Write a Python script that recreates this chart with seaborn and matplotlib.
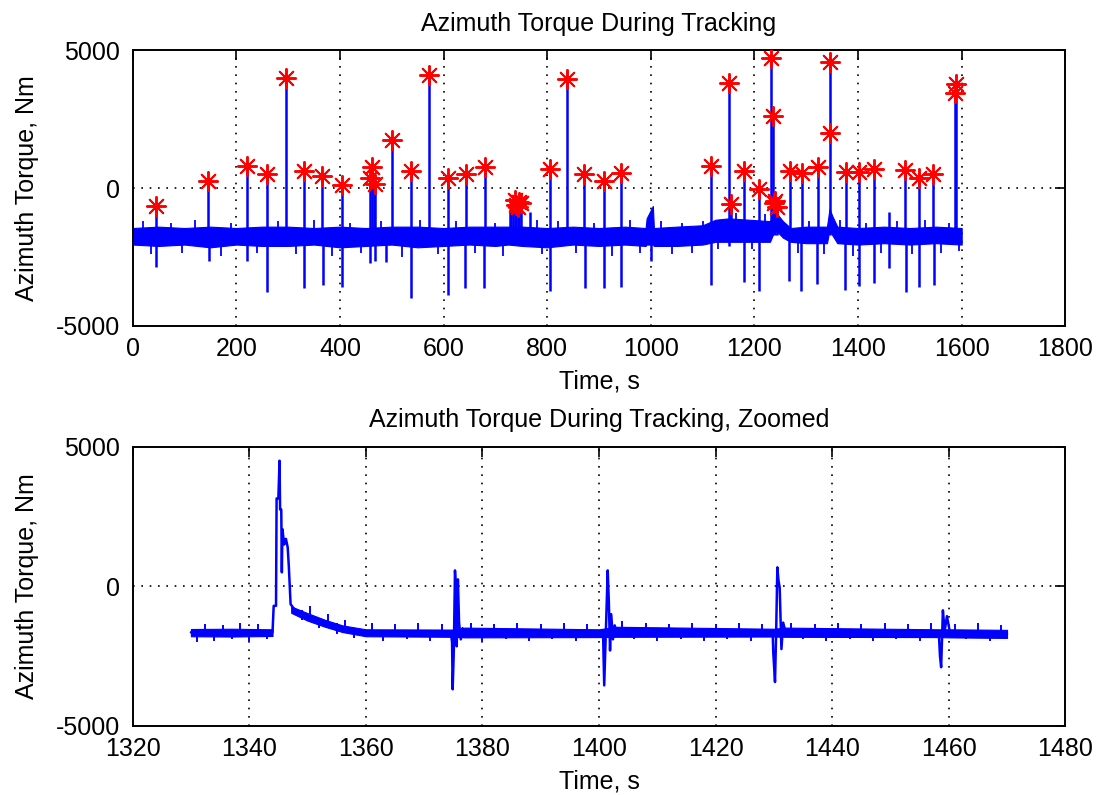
import numpy as np
import pandas as pd
import matplotlib
matplotlib.use('Agg')
import matplotlib.pyplot as plt
import seaborn as sb

# ---------------- top panel: whole tracking run ----------------
# noise band of the torque signal, upper / lower edge
band_t  = [0, 50, 100, 150, 200, 250, 300, 350, 400, 450, 500, 550, 600, 650, 700, 725,
           752, 800, 850, 900, 950, 990, 992, 1004, 1006, 1050, 1100, 1125, 1150, 1190,
           1230, 1240, 1255, 1270, 1300, 1340, 1345, 1350, 1360, 1400, 1450, 1500, 1550, 1600]
band_hi = [-1450, -1400, -1450, -1400, -1450, -1400, -1400, -1450, -1400, -1450, -1400, -1400,
           -1450, -1400, -1400, -1400, -1400, -1450, -1400, -1450, -1400, -1450, -1100, -650,
           -1450, -1400, -1350, -1150, -1100, -1150, -1200, -850, -1200, -1450, -1400, -1400,
           -750, -1000, -1400, -1450, -1400, -1450, -1400, -1450]
band_lo = [-2050, -2100, -2050, -2150, -2050, -2100, -2100, -2050, -2150, -2100, -2050, -2150,
           -2100, -2050, -2100, -2050, -2100, -2150, -2050, -2100, -2050, -2100, -2050, -2050,
           -2100, -2100, -2050, -1950, -1950, -1950, -1950, -1500, -1800, -1950, -2000, -2000,
           -1500, -1700, -2000, -2050, -2000, -2050, -2000, -2050]

# short noise ticks sticking out of the band (time, bottom, top)
tick_t  = [20, 35, 75, 95, 120, 170, 190, 240, 280, 315, 350, 385, 420, 440, 480, 520, 555, 590,
           625, 660, 700, 715, 780, 790, 820, 855, 890, 925, 960, 980, 1020, 1040, 1060, 1080,
           1100, 1130, 1165, 1195, 1220, 1285, 1305, 1335, 1365, 1390, 1415, 1445, 1475, 1505,
           1530, 1560, 1575, 1595]
tick_lo = [-1800, -2400, -1800, -2350, -1800, -2450, -1800, -2350, -1800, -2400, -1800, -2450,
           -1800, -2350, -1800, -2500, -1800, -2400, -1800, -2350, -1800, -2450, -1800, -2400,
           -1800, -2350, -1800, -2450, -1800, -2350, -1800, -2400, -1800, -2350, -1800, -2200,
           -1600, -2200, -1600, -2350, -1800, -2400, -1800, -2450, -1800, -2350, -1800, -2400,
           -1800, -2350, -1800, -2300]
tick_hi = [-1200, -1700, -1250, -1700, -1150, -1700, -1250, -1700, -1200, -1700, -1150, -1700,
           -1250, -1700, -1200, -1700, -1150, -1700, -1200, -1700, -1250, -1700, -1150, -1700,
           -1200, -1700, -1250, -1700, -1150, -1700, -1200, -1700, -1250, -1700, -1200, -1500,
           -900, -1500, -950, -1700, -1200, -1700, -1150, -1700, -1250, -1700, -1200, -1700,
           -1150, -1700, -1250, -1700]

base_level = -1700

# spikes going up (tip value) and going down (bottom value)
up_t = [46, 146, 221, 259, 296, 330, 366, 404, 459, 462, 465, 468, 500, 537, 572, 609, 643, 680,
        728, 731, 734, 737, 740, 743, 746, 749, 766, 805, 838, 871, 910, 943, 1117, 1150, 1154,
        1179, 1209, 1232, 1236, 1240, 1243, 1268, 1291, 1322, 1345, 1376, 1401, 1430, 1459, 1491,
        1517, 1545, 1587, 1589]
up_v = [-650, 250, 800, 500, 4000, 600, 430, 100, 360, 760, 400, 150, 1750, 600, 4100, 350, 500, 750,
        -750, -700, -650, -450, -600, -700, -500, -550, -870, 680, 3950, 500, 250, 530, 800, 3800, -580,
        600, -50, 4700, 2600, -470, -690, 600, 540, 760, 4550, 580, 580, 690, -860, 660,
        380, 520, 3440, 3770]
dn_t = [46, 147, 221, 260, 330, 367, 405, 458, 468, 489, 537, 609, 642, 679, 805, 873, 910, 943,
        1000, 1116, 1150, 1179, 1208, 1267, 1290, 1321, 1375, 1401, 1430, 1459, 1492, 1517, 1546]
dn_v = [-2860, -2650, -2650, -3770, -3620, -3510, -3590, -2700, -2650, -2680, -3990, -3880, -3620,
        -3620, -3730, -3620, -3620, -3590, -2650, -3510, -2100, -3400, -3730, -3370, -3730, -3480,
        -3690, -3550, -3430, -2900, -3770, -3590, -3510]

# red asterisks (detected peaks)
star_t = [46, 146, 221, 259, 296, 330, 366, 404, 459, 462, 468, 500, 537, 572, 609, 643, 680,
          737, 740, 743, 746, 749, 805, 838, 871, 910, 943, 1117, 1150, 1154, 1179, 1209,
          1232, 1236, 1237, 1240, 1243, 1268, 1291, 1322, 1345, 1345, 1376, 1401, 1430,
          1491, 1517, 1545, 1587, 1589]
star_v = [-650, 250, 800, 500, 4000, 600, 430, 100, 360, 760, 150, 1750, 600, 4100, 350, 500, 750,
          -450, -600, -700, -500, -550, 680, 3950, 500, 250, 530, 800, 3800, -580, 600, -50,
          4700, 2600, -550, -470, -690, 600, 540, 760, 4550, 2000, 580, 580, 690,
          660, 380, 520, 3440, 3770]

# ---------------- bottom panel: zoom 1330-1470 s ----------------
zoom_t = [1330, 1344.0, 1344.2, 1344.6, 1344.7, 1345.0, 1345.2, 1345.3, 1345.5, 1345.6, 1345.7,
          1346.0, 1346.3, 1346.6, 1346.8, 1347.1, 1348, 1351, 1354, 1357, 1360,
          1374.6, 1374.8, 1374.9, 1375.1, 1375.3, 1375.5, 1375.6, 1375.8, 1376.0, 1376.3, 1376.6, 1377,
          1400.7, 1400.9, 1401.2, 1401.5, 1401.7, 1401.9, 1402.1, 1402.4, 1402.7, 1403,
          1429.8, 1429.9, 1430.2, 1430.4, 1430.6, 1430.8, 1431.0, 1431.3, 1431.6, 1432,
          1458.3, 1458.5, 1458.7, 1459.0, 1459.3, 1459.7, 1460.2, 1470]
zoom_v = [-1650, -1650, -700, -700, 3150, 3150, 4500, 2750, 2750, 500, 2050,
          1500, 1700, 1400, 700, -640, -900, -1180, -1450, -1600, -1680,
          -1680, -2000, -3690, -2300, 570, -200, -2150, 250, -1300, -1900, -1500, -1650,
          -1650, -3550, -1500, 570, -600, -2300, -1000, -1900, -1400, -1650,
          -1650, -2370, -3430, -1600, 680, 200, -40, -2250, -1300, -1650,
          -1650, -2500, -2900, -860, -1600, -1070, -1650, -1700]

# noise band of the zoomed signal: before the big peak and after it
zband1_t  = [1330, 1337, 1344]
zband1_hi = [-1530, -1520, -1540]
zband1_lo = [-1790, -1800, -1780]
zband2_t  = [1347.2, 1350, 1353, 1356, 1360, 1375, 1377, 1400, 1403, 1430, 1432, 1458, 1460, 1470]
zband2_hi = [-720, -960, -1200, -1400, -1540, -1550, -1480, -1540, -1450, -1520, -1480, -1540, -1540, -1560]
zband2_lo = [-950, -1230, -1450, -1640, -1790, -1810, -1830, -1820, -1810, -1800, -1810, -1820, -1830, -1850]

# single noise ticks that stick out of the zoomed band (time, bottom, top)
ztick_t  = [1331, 1332.5, 1334, 1335.5, 1337, 1338.5, 1340, 1341.5, 1343, 1349, 1350.5, 1352,
            1353.5, 1355, 1356.5, 1358, 1361, 1363, 1365, 1367, 1369, 1371, 1373, 1378, 1380,
            1382, 1384, 1386, 1388, 1390, 1392, 1394, 1396, 1398, 1404, 1406, 1408, 1410, 1412,
            1414, 1416, 1418, 1420, 1422, 1424, 1426, 1428, 1433, 1435, 1437, 1439, 1441, 1443,
            1445, 1447, 1449, 1451, 1453, 1455, 1457, 1461, 1463, 1465, 1467, 1469]
ztick_lo = [-2000, -1700, -1950, -1700, -1900, -1700, -1950, -1700, -1900, -1200, -1000, -1500,
            -1250, -1700, -1450, -1850, -1700, -1950, -1700, -1900, -1700, -1950, -1700, -1700, -1950,
            -1700, -1900, -1700, -1950, -1700, -1900, -1700, -1950, -1700, -1700, -1900, -1700, -1950, -1700,
            -1900, -1700, -1950, -1700, -1900, -1700, -1950, -1700, -1700, -1900, -1700, -1950, -1700, -1900,
            -1700, -1950, -1700, -1900, -1700, -1950, -1700, -1700, -1900, -1700, -1950, -1700]
ztick_hi = [-1650, -1350, -1650, -1400, -1650, -1300, -1650, -1350, -1650, -850, -700, -1200,
            -1000, -1300, -1200, -1550, -1300, -1650, -1350, -1650, -1300, -1650, -1350, -1300, -1650,
            -1350, -1650, -1300, -1650, -1350, -1650, -1300, -1650, -1350, -1250, -1650, -1300, -1650, -1350,
            -1650, -1300, -1650, -1350, -1650, -1300, -1650, -1350, -1300, -1650, -1350, -1650, -1300, -1650,
            -1350, -1650, -1300, -1650, -1350, -1650, -1300, -1350, -1650, -1300, -1650, -1400]

# ---------------- style ----------------
sb.set_theme(style='white')
plt.rcParams['font.family'] = ['Liberation Sans', 'DejaVu Sans']
plt.rcParams['axes.unicode_minus'] = False
plt.rcParams['text.color'] = 'black'
plt.rcParams['axes.labelcolor'] = 'black'
plt.rcParams['xtick.color'] = 'black'
plt.rcParams['ytick.color'] = 'black'

fig = plt.figure(figsize=(10.96, 7.95), dpi=100)
ax1 = fig.add_axes([0.121, 0.590, 0.851, 0.347])
ax2 = fig.add_axes([0.121, 0.087, 0.851, 0.351])

blue = '#0000ff'

# top panel
ax1.fill_between(band_t, band_lo, band_hi, color=blue, lw=0.8, edgecolor=blue)
ax1.vlines(tick_t, tick_lo, tick_hi, color=blue, lw=1.3)
ax1.vlines(up_t, base_level, up_v, color=blue, lw=1.8)
ax1.vlines(dn_t, dn_v, base_level, color=blue, lw=1.8)
sb.scatterplot(x=star_t, y=star_v, marker=(8, 2, 0), color='red', s=190, linewidth=1.4,
               ax=ax1, zorder=3, legend=False)

# bottom panel
ax2.fill_between(zband1_t, zband1_lo, zband1_hi, color=blue, lw=0.8, edgecolor=blue)
ax2.fill_between(zband2_t, zband2_lo, zband2_hi, color=blue, lw=0.8, edgecolor=blue)
ax2.vlines(ztick_t, ztick_lo, ztick_hi, color=blue, lw=1.4)
sb.lineplot(x=zoom_t, y=zoom_v, color=blue, lw=1.8, ax=ax2, sort=False, estimator=None)

def matlab_axes(ax, xmin, xmax, xstep, title):
    ax.set_xlim(xmin, xmax)
    ax.set_ylim(-5000, 5000)
    ax.set_xticks(np.arange(xmin, xmax + 1, xstep))
    ax.set_yticks([-5000, 0, 5000])
    ax.grid(True, color='black', linestyle=(0, (1, 4)), lw=1.2)
    ax.tick_params(direction='in', top=True, right=True, length=7, width=1.2, labelsize=18)
    ax.tick_params(axis='x', pad=8)
    ax.tick_params(axis='y', pad=9)
    for s in ax.spines.values():
        s.set_color('black')
        s.set_linewidth(1.4)
    ax.set_xlabel('Time, s', fontsize=18, labelpad=6)
    ax.set_ylabel('Azimuth Torque, Nm', fontsize=18, labelpad=12)
    ax.set_title(title, fontsize=18, pad=14)

matlab_axes(ax1, 0, 1800, 200, 'Azimuth Torque During Tracking')
matlab_axes(ax2, 1320, 1480, 20, 'Azimuth Torque During Tracking, Zoomed')

fig.savefig('out.png', dpi=100, facecolor='white')
